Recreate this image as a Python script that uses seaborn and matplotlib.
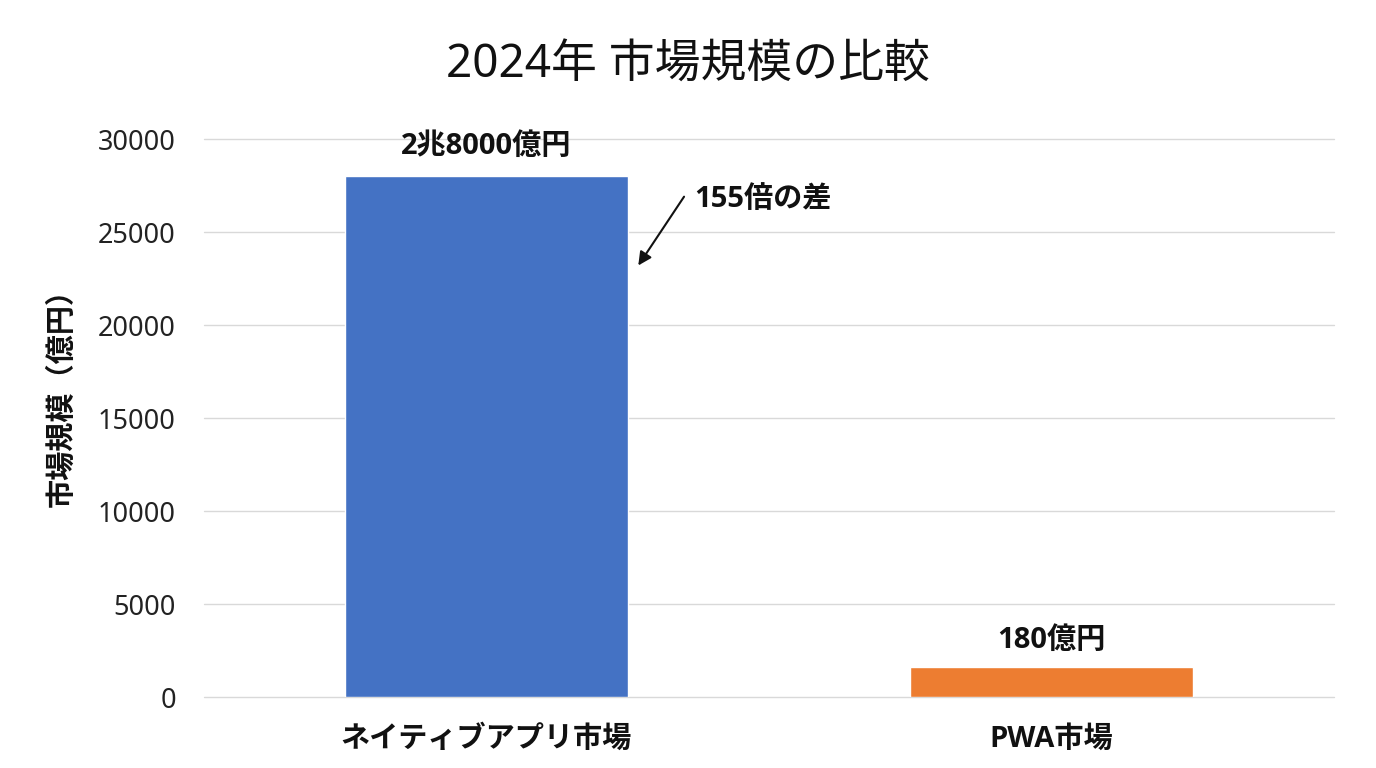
import pandas as pd
import matplotlib.pyplot as plt
import seaborn as sns

categories = ['ネイティブアプリ市場', 'PWA市場']
market_size = [28000, 1600]
bar_labels = ['2兆8000億円', '180億円']
bar_colors = ['#4472C4', '#ED7D31']
yticks = [0, 5000, 10000, 15000, 20000, 25000, 30000]

df = pd.DataFrame({'market': categories, 'size': market_size})

sns.set_theme(style='whitegrid')
plt.rcParams['font.family'] = ['Noto Sans', 'Noto Sans CJK JP', 'DejaVu Sans']
bold_family = ['Open Sans', 'Noto Sans CJK JP', 'DejaVu Sans']

fig = plt.figure(figsize=(13.76, 7.68), dpi=100)
ax = fig.add_axes([0.148, 0.0924, 0.8215, 0.7266])

sns.barplot(data=df, x='market', y='size', hue='market', palette=bar_colors,
            width=0.5, legend=False, saturation=1, ax=ax)

ax.set_xlim(-0.5, 1.5)
ax.set_ylim(0, 30000)
ax.set_yticks(yticks)
ax.set_yticklabels([str(t) for t in yticks], fontsize=19.5, color='#222222')
ax.tick_params(axis='x', pad=20, length=0)
ax.tick_params(axis='y', pad=20, length=0)
for lbl in ax.get_xticklabels():
    lbl.set_fontweight('bold')
    lbl.set_fontfamily(bold_family)
    lbl.set_fontsize(21)
    lbl.set_color('#111111')

ax.grid(axis='y', color='#d9d9d9', linewidth=1)
ax.grid(axis='x', visible=False)
ax.set_axisbelow(True)
for gl in ax.yaxis.get_gridlines():
    gl.set_clip_on(False)
for s in ax.spines.values():
    s.set_visible(False)

for cont, lab, pad in zip(ax.containers, bar_labels, [11, 9]):
    ax.bar_label(cont, labels=[lab], padding=pad, fontsize=21,
                 fontweight='bold', family=bold_family, color='#111111')

# arrow pointing at the big bar, text to the right
ax.annotate('', xy=(0.269, 23200), xytext=(0.35, 26900),
            arrowprops=dict(arrowstyle='-|>', color='#111111', lw=1.5,
                            mutation_scale=20, shrinkA=0, shrinkB=0))
ax.text(0.368, 26750, '155倍の差', fontsize=21, fontweight='bold',
        family=bold_family, color='#111111', va='center', ha='left')

ax.set_xlabel('')
ax.set_ylabel('市場規模（億円）', fontsize=21, fontweight='bold', family=bold_family,
              color='#111111')
ax.yaxis.set_label_coords(-0.112, 0.55)
fig.suptitle('2024年 市場規模の比較', fontsize=33, color='#111111', y=0.945)

fig.savefig('out.png', dpi=100)
